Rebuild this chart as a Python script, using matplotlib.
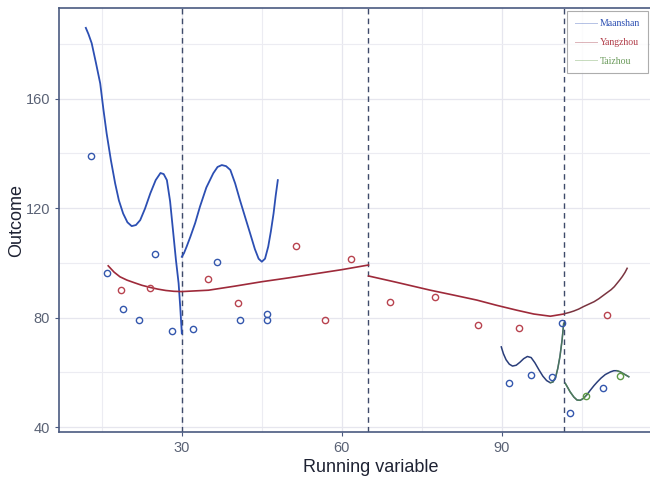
import matplotlib.pyplot as plt
from matplotlib.lines import Line2D

plt.rcParams['font.family'] = ['Liberation Sans', 'DejaVu Sans']

# points
maanshan_x = [13.0, 16.0, 19.0, 22.0, 25.0, 28.2, 32.1, 36.6, 41.0, 46.0, 46.0,
              91.4, 95.4, 99.4, 101.2, 102.8, 108.9]
maanshan_y = [139, 96.3, 83.1, 79.1, 103.2, 75.1, 75.8, 100.3, 79.1, 81.2, 79.0,
              56.1, 58.9, 58.4, 78.2, 45.0, 54.4]
yangzhou_x = [18.6, 24.1, 35.0, 40.6, 51.5, 56.9, 61.8, 69.0, 77.5, 85.5, 93.3, 109.7]
yangzhou_y = [90.0, 90.8, 94.1, 85.3, 106.1, 79.1, 101.5, 85.6, 87.6, 77.3, 76.1, 80.9]
taizhou_x = [105.8, 112.2]
taizhou_y = [51.4, 58.6]

# fitted curves, one list per segment
blue1_x = [12.0, 12.5, 13.1, 13.9, 14.7, 15.3, 15.9, 16.7, 17.5, 18.2, 19.0, 19.8, 20.6,
           21.4, 22.2, 23.1, 24.1, 25.1, 26.0, 26.6, 27.2, 27.8, 28.4, 28.9, 29.4, 29.7, 30.0]
blue1_y = [185.8, 183.5, 180.2, 173.0, 165.5, 156.0, 147.3, 137.5, 129.0, 122.8, 118.0, 114.8, 113.4,
           113.8, 115.6, 119.8, 125.4, 130.2, 132.8, 132.4, 130.2, 122.5, 110.8, 101.0, 92.5, 84.0, 74.2]
blue2_x = [30.0, 30.4, 30.9, 31.6, 32.5, 33.4, 34.6, 35.9, 36.7, 37.5, 38.3, 39.1, 40.0,
           40.9, 41.9, 42.8, 43.7, 44.4, 45.0, 45.6, 46.2, 46.7, 47.2, 47.6, 48.0]
blue2_y = [102.2, 103.5, 105.9, 109.5, 114.5, 120.5, 127.5, 132.7, 135.0, 135.7, 135.3, 133.9, 129.0,
           122.9, 116.5, 110.8, 105.0, 101.5, 100.4, 101.5, 105.9, 111.5, 118.0, 124.5, 130.2]
blue3_x = [89.9, 90.3, 90.8, 91.4, 92.0, 92.7, 93.4, 94.1, 94.8, 95.5, 96.2, 97.0, 97.7,
           98.4, 99.1, 99.6, 100.1, 100.5, 100.9, 101.3, 101.6]
blue3_y = [69.3, 66.8, 64.6, 63.0, 62.3, 62.6, 63.7, 65.0, 65.8, 65.4, 63.5, 60.8, 58.6,
           57.0, 56.2, 56.5, 58.3, 61.5, 65.8, 71.8, 77.9]
blue4_x = [101.9, 102.4, 102.8, 103.5, 104.1, 104.7, 105.3, 105.9, 106.6, 107.3, 107.9,
           108.6, 109.4, 110.4, 111.0, 111.6, 112.2, 113.0, 113.8]
blue4_y = [56.0, 54.3, 52.9, 51.0, 49.9, 49.8, 50.5, 51.7, 53.5, 55.2, 56.5,
           57.9, 59.2, 60.2, 60.6, 60.6, 60.2, 59.3, 58.4]
red1_x = [16.2, 17.3, 18.4, 19.7, 21.0, 22.5, 24.1, 25.5, 27.0, 28.5, 30.0, 35.0, 40.0,
          45.0, 50.0, 55.0, 60.0, 65.0]
red1_y = [98.9, 96.6, 94.9, 93.7, 92.8, 91.8, 91.0, 90.4, 89.9, 89.6, 89.5, 90.0, 91.5,
          93.1, 94.5, 96.0, 97.5, 99.2]
red2_x = [65.0, 70.0, 76.6, 81.0, 85.3, 89.0, 92.8, 96.0, 99.1, 101.6]
red2_y = [95.2, 93.0, 90.0, 88.2, 86.4, 84.5, 82.7, 81.3, 80.5, 81.3]
red3_x = [101.9, 102.7, 103.5, 104.4, 105.3, 106.3, 107.3, 108.2, 109.1, 109.8, 110.5,
          111.1, 111.6, 112.1, 112.6, 113.1, 113.5]
red3_y = [81.5, 81.9, 82.4, 83.1, 84.0, 84.9, 85.8, 86.9, 88.2, 89.2, 90.2,
          91.3, 92.5, 93.7, 95.0, 96.5, 98.0]

cutoffs = [30, 65, 101.7]

blue = '#2c4fb3'
red = '#9e2a3a'
green = '#5e9a45'
navy = '#4a5a80'

fig = plt.figure(figsize=(6.5, 4.79), dpi=100)
# panel runs a bit past the right edge of the picture
ax = fig.add_axes([0.091, 0.098, 0.96, 0.885])

ax.set_xlim(7.0, 124.0)
ax.set_ylim(38.2, 193)
ax.set_xticks([30, 60, 90])
ax.set_yticks([40, 80, 120, 160])
ax.set_xticks([15, 45, 75, 105, 120], minor=True)
ax.set_yticks([60, 100, 140, 180], minor=True)
ax.grid(True, which='major', color='#e6e6ee', lw=0.9)
ax.grid(True, which='minor', color='#ececf2', lw=0.8)
ax.tick_params(which='minor', length=0)
ax.tick_params(which='major', length=3, color=navy, labelcolor='#5a6275', labelsize=10.5)
for s in ['left', 'bottom', 'top']:
    ax.spines[s].set_color(navy)
    ax.spines[s].set_linewidth(1.2)
ax.spines['right'].set_visible(False)

for c in cutoffs:
    ax.axvline(c, color='#3e4a6a', lw=1.0, ls=(0, (4, 3)))

ax.plot(blue1_x, blue1_y, color=blue, lw=1.3)
ax.plot(blue2_x, blue2_y, color=blue, lw=1.3)
ax.plot(red1_x, red1_y, color=red, lw=1.2)
ax.plot(red2_x, red2_y, color=red, lw=1.2)
ax.plot(red3_x, red3_y, color='#7a3440', lw=1.1)
ax.plot(blue3_x, blue3_y, color='#2a3e7a', lw=1.1)
ax.plot(blue4_x, blue4_y, color='#2a3e7a', lw=1.1)
ax.plot(blue3_x[-7:], blue3_y[-7:], color=green, lw=1.0, alpha=0.6)
ax.plot(blue4_x[:8], blue4_y[:8], color=green, lw=1.0, alpha=0.7)
ax.plot(blue4_x[-4:], blue4_y[-4:], color=green, lw=1.0, alpha=0.7)

ax.plot(maanshan_x, maanshan_y, 'o', mfc='none', mec='#3457ad', mew=1.0, ms=4.5)
ax.plot(yangzhou_x, yangzhou_y, 'o', mfc='none', mec='#b8434f', mew=1.0, ms=4.5)
ax.plot(taizhou_x, taizhou_y, 'o', mfc='none', mec=green, mew=1.0, ms=4.5)

ax.set_xlabel('Running variable', fontsize=13, color='#1e2233', labelpad=3)
ax.set_ylabel('Outcome', fontsize=13, color='#1e2233', labelpad=0)

handles = [Line2D([], [], color=blue, lw=0.7, alpha=0.35),
           Line2D([], [], color=red, lw=0.7, alpha=0.35),
           Line2D([], [], color=green, lw=0.7, alpha=0.35)]
leg = fig.legend(handles, ['Maanshan', 'Yangzhou', 'Taizhou'],
                 loc='upper right', bbox_to_anchor=(0.997, 0.976),
                 prop={'family': 'Liberation Serif', 'size': 7},
                 frameon=True, fancybox=False, edgecolor='#999999',
                 handlelength=2.2, handletextpad=0.35, labelspacing=1.0,
                 borderpad=0.8, borderaxespad=0)
leg.get_frame().set_linewidth(0.8)
for t, c in zip(leg.get_texts(), ['#2c4fb3', '#b03a46', '#6a9a5a']):
    t.set_color(c)

fig.savefig('out.png', dpi=100)
